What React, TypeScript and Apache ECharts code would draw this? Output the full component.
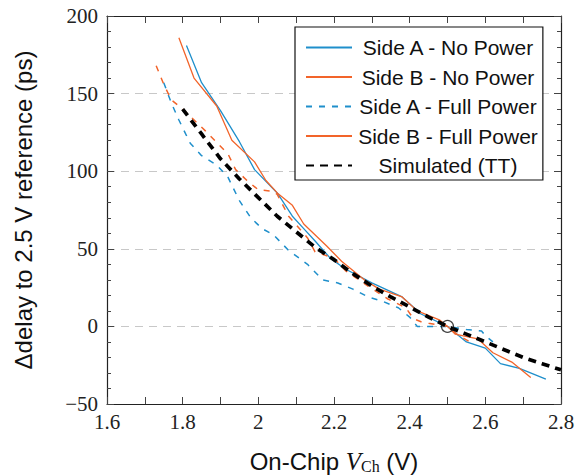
import React, { useEffect, useRef } from "react";
import * as echarts from "echarts";

const sideANoPowerX = [1.81, 1.85, 1.9, 1.95, 1.99, 2.05, 2.09, 2.12, 2.15, 2.19, 2.23, 2.3, 2.38, 2.43, 2.5, 2.55, 2.6, 2.64, 2.69, 2.76];
const sideANoPowerY = [181, 157, 139, 119, 101, 86, 71, 63, 55, 44, 37, 28, 19, 8, 0, -10, -14, -24, -27, -34];

const sideBNoPowerX = [1.79, 1.83, 1.89, 1.93, 1.99, 2.02, 2.05, 2.09, 2.12, 2.18, 2.22, 2.28, 2.32, 2.38, 2.42, 2.48, 2.5, 2.52, 2.58, 2.62, 2.67, 2.72];
const sideBNoPowerY = [186, 160, 142, 120, 106, 94, 86, 78, 66, 52, 42, 30, 24, 19, 10, 4, 0, -5, -8, -17, -23, -33];

const sideAFullPowerX = [1.75, 1.77, 1.79, 1.82, 1.85, 1.89, 1.92, 1.95, 1.98, 2.01, 2.04, 2.08, 2.13, 2.17, 2.21, 2.25, 2.29, 2.33, 2.37, 2.4, 2.42, 2.46, 2.5, 2.55, 2.59, 2.6, 2.62];
const sideAFullPowerY = [157, 144, 133, 118, 110, 104, 96, 81, 70, 63, 59, 49, 40, 30, 28, 24, 19, 16, 12, 6, 0, 0, 0, -2, -3, -6, -10];

const sideBFullPowerX = [1.73, 1.75, 1.77, 1.8, 1.86, 1.92, 1.94, 1.97, 2.0, 2.04, 2.05, 2.08, 2.13, 2.15, 2.2, 2.23, 2.29, 2.34, 2.39, 2.41, 2.43, 2.45, 2.5, 2.53, 2.56];
const sideBFullPowerY = [168, 156, 146, 140, 126, 111, 101, 94, 88, 87, 85, 71, 57, 48, 44, 36, 26, 18, 12, 5, 3, 2, 0, -6, -10];

const simX = [1.8, 1.85, 1.9, 1.95, 2.0, 2.05, 2.1, 2.15, 2.2, 2.25, 2.3, 2.35, 2.4, 2.45, 2.5, 2.55, 2.6, 2.65, 2.7, 2.75, 2.8];
const simY = [140, 124, 108, 95, 83, 71, 61, 51, 43, 34, 26, 19, 12.5, 6, 0, -5, -10, -15, -20, -24, -28];

const refPoint = [[2.5, 0]];

const names = ["Side A - No Power", "Side B - No Power", "Side A - Full Power", "Side B - Full Power", "Simulated (TT)"];

const BLUE = "#1f8fcb";
const ORANGE = "#f2642a";

const zip = (xs: number[], ys: number[]) => xs.map((x, i) => [x, ys[i]]);

export default function App() {
  const ref = useRef<HTMLDivElement>(null);
  useEffect(() => {
    document.body.style.margin = "0";
    if (!ref.current) return;
    const chart = echarts.init(ref.current, undefined, { renderer: "svg" });
    const serif = "'Liberation Serif', 'DejaVu Serif', serif";
    const sans = "'Liberation Sans', Arial, sans-serif";
    const axisLine = { show: true, onZero: false, lineStyle: { color: "#222", width: 1.2 } };
    const tickStyle = { color: "#444", width: 1 };
    chart.setOption({
      animation: false,
      backgroundColor: "#fff",
      grid: { left: 107, right: 17, top: 16, bottom: 72, containLabel: false, outerBoundsMode: "none" },
      legend: {
        show: true,
        left: 295,
        top: 27,
        orient: "vertical",
        backgroundColor: "#fff",
        borderColor: "#111",
        borderWidth: 1.2,
        borderRadius: 0,
        padding: [10, 5, 4, 10],
        itemWidth: 46,
        itemHeight: 14,
        itemGap: 8.5,
        itemStyle: { color: "rgba(0,0,0,0)", borderWidth: 0, opacity: 0 },
        formatter: (n: string) => "{c|" + n + "}",
        textStyle: {
          fontFamily: sans,
          fontSize: 21,
          color: "#111",
          rich: { c: { width: 182, height: 22, align: "center", fontFamily: sans, fontSize: 21, color: "#111" } },
        },
        data: [
          { name: names[0] },
          { name: names[1] },
          { name: names[2] },
          { name: names[3], lineStyle: { type: "solid" } },
          { name: names[4] },
        ],
      },
      xAxis: [
        {
          type: "value",
          min: 1.6,
          max: 2.8,
          interval: 0.2,
          minorTick: { show: true, splitNumber: 2, length: 7, lineStyle: tickStyle },
          axisTick: { show: true, inside: true, length: 7, lineStyle: tickStyle },
          axisLine,
          splitLine: { show: false },
          axisLabel: {
            fontFamily: serif,
            fontSize: 21,
            color: "#222",
            margin: 7,
            formatter: (v: number) => String(Math.round(v * 10) / 10),
          },
          name: "{a|On-Chip }{b|V}{s|Ch}{a| (V)}",
          nameLocation: "middle",
          nameGap: 44,
          nameTextStyle: {
            rich: {
              a: { fontFamily: sans, fontSize: 24, color: "#111" },
              b: { fontFamily: serif, fontStyle: "italic", fontSize: 25, color: "#111" },
              s: { fontFamily: serif, fontSize: 16, color: "#111", verticalAlign: "bottom", padding: [10, 0, 0, 0] },
            },
          },
        },
        {
          type: "value",
          position: "top",
          min: 1.6,
          max: 2.8,
          interval: 0.2,
          minorTick: { show: true, splitNumber: 2, length: 7, lineStyle: tickStyle },
          axisTick: { show: true, inside: true, length: 7, lineStyle: tickStyle },
          axisLine,
          splitLine: { show: false },
          axisLabel: { show: false },
        },
      ],
      yAxis: [
        {
          type: "value",
          min: -50,
          max: 200,
          interval: 50,
          minorTick: { show: true, splitNumber: 5, length: 4, lineStyle: tickStyle },
          axisTick: { show: true, inside: true, length: 7, lineStyle: tickStyle },
          axisLine,
          splitLine: { show: true, lineStyle: { color: "#c8c8c8", type: [8, 6], width: 1 } },
          axisLabel: {
            fontFamily: serif,
            fontSize: 21,
            color: "#222",
            margin: 9,
            formatter: (v: number) => (v < 0 ? "\u2212" + Math.abs(v) : String(v)),
          },
          name: "\u0394delay to 2.5 V reference (ps)",
          nameLocation: "middle",
          nameGap: 72,
          nameTextStyle: { fontFamily: sans, fontSize: 24, color: "#111" },
        },
        {
          type: "value",
          position: "right",
          min: -50,
          max: 200,
          interval: 50,
          minorTick: { show: true, splitNumber: 5, length: 4, lineStyle: tickStyle },
          axisTick: { show: true, inside: true, length: 7, lineStyle: tickStyle },
          axisLine,
          splitLine: { show: false },
          axisLabel: { show: false },
        },
      ],
      series: [
        {
          name: names[0],
          type: "line",
          data: zip(sideANoPowerX, sideANoPowerY),
          symbol: "none",
          lineStyle: { color: BLUE, width: 1.3 },
          itemStyle: { color: BLUE },
          z: 3,
        },
        {
          name: names[1],
          type: "line",
          data: zip(sideBNoPowerX, sideBNoPowerY),
          symbol: "none",
          lineStyle: { color: ORANGE, width: 1.3 },
          itemStyle: { color: ORANGE },
          z: 3,
        },
        {
          name: names[2],
          type: "line",
          data: zip(sideAFullPowerX, sideAFullPowerY),
          symbol: "none",
          lineStyle: { color: BLUE, width: 1.5, type: [6, 7] },
          itemStyle: { color: BLUE },
          z: 3,
        },
        {
          name: names[3],
          type: "line",
          data: zip(sideBFullPowerX, sideBFullPowerY),
          symbol: "none",
          lineStyle: { color: ORANGE, width: 1.5, type: [6, 7] },
          itemStyle: { color: ORANGE },
          z: 3,
        },
        {
          name: names[4],
          type: "line",
          data: zip(simX, simY),
          symbol: "none",
          lineStyle: { color: "#000", width: 3.7, type: [8, 6] },
          itemStyle: { color: "#000" },
          z: 4,
        },
        {
          name: "ref",
          type: "scatter",
          data: refPoint,
          symbol: "circle",
          symbolSize: 12,
          itemStyle: { color: "rgba(0,0,0,0)", borderColor: "#111", borderWidth: 1.2 },
          z: 5,
        },
      ],
    });
    return () => chart.dispose();
  }, []);
  return <div ref={ref} style={{ width: 578, height: 476 }} />;
}
